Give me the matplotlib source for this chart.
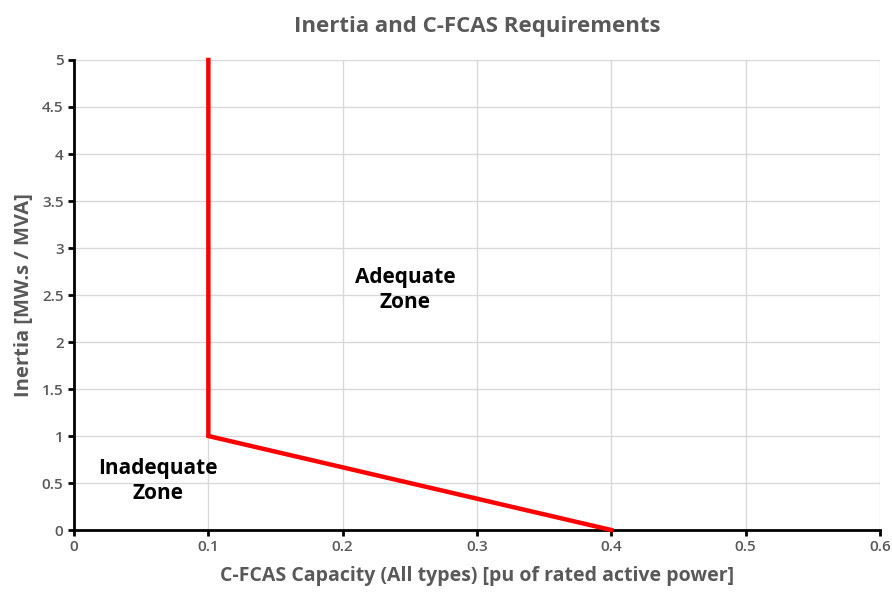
import matplotlib.pyplot as plt

# boundary between inadequate and adequate zones
cfcas = [0.1, 0.1, 0.4]
inertia = [5, 1, 0]

x_ticks = [0, 0.1, 0.2, 0.3, 0.4, 0.5, 0.6]
y_ticks = [0, 0.5, 1, 1.5, 2, 2.5, 3, 3.5, 4, 4.5, 5]

plt.rcParams['font.family'] = ['Open Sans', 'DejaVu Sans']
grey = '#595959'

fig = plt.figure(figsize=(8.92, 5.94), dpi=100)
ax = fig.add_axes([0.083, 0.1077, 0.9035, 0.7913])

ax.plot(cfcas, inertia, color='#ff0000', lw=3.2, solid_joinstyle='miter', zorder=3, clip_on=False)

ax.set_xlim(0, 0.6)
ax.set_ylim(0, 5)
ax.set_xticks(x_ticks)
ax.set_xticklabels([f'{v:g}' for v in x_ticks])
ax.set_yticks(y_ticks)
ax.set_yticklabels([f'{v:g}' for v in y_ticks])
ax.grid(True, color='#d9d9d9', lw=1)
ax.set_axisbelow(True)

for s in ['top', 'right']:
    ax.spines[s].set_visible(False)
for s in ['left', 'bottom']:
    ax.spines[s].set_linewidth(2)
    ax.spines[s].set_color('black')
ax.tick_params(direction='out', length=4, width=2, colors='black', labelcolor=grey, labelsize=11)
for lab in ax.get_xticklabels() + ax.get_yticklabels():
    lab.set_fontweight('semibold')

ax.set_title('Inertia and C-FCAS Requirements', fontsize=16, fontweight='bold', color=grey, pad=20)
ax.set_xlabel('C-FCAS Capacity (All types) [pu of rated active power]', fontsize=14,
              fontweight='bold', color=grey, labelpad=8)
ax.set_ylabel('Inertia [MW.s / MVA]', fontsize=14.5, fontweight='bold', color=grey, labelpad=6)

ax.text(0.2464, 2.55, 'Adequate\nZone', ha='center', va='center', fontsize=15,
        fontweight='bold', color='black', linespacing=1.25)
ax.text(0.0622, 0.52, 'Inadequate\nZone', ha='center', va='center', fontsize=15,
        fontweight='bold', color='black', linespacing=1.25)

fig.savefig('out.png', dpi=100)
